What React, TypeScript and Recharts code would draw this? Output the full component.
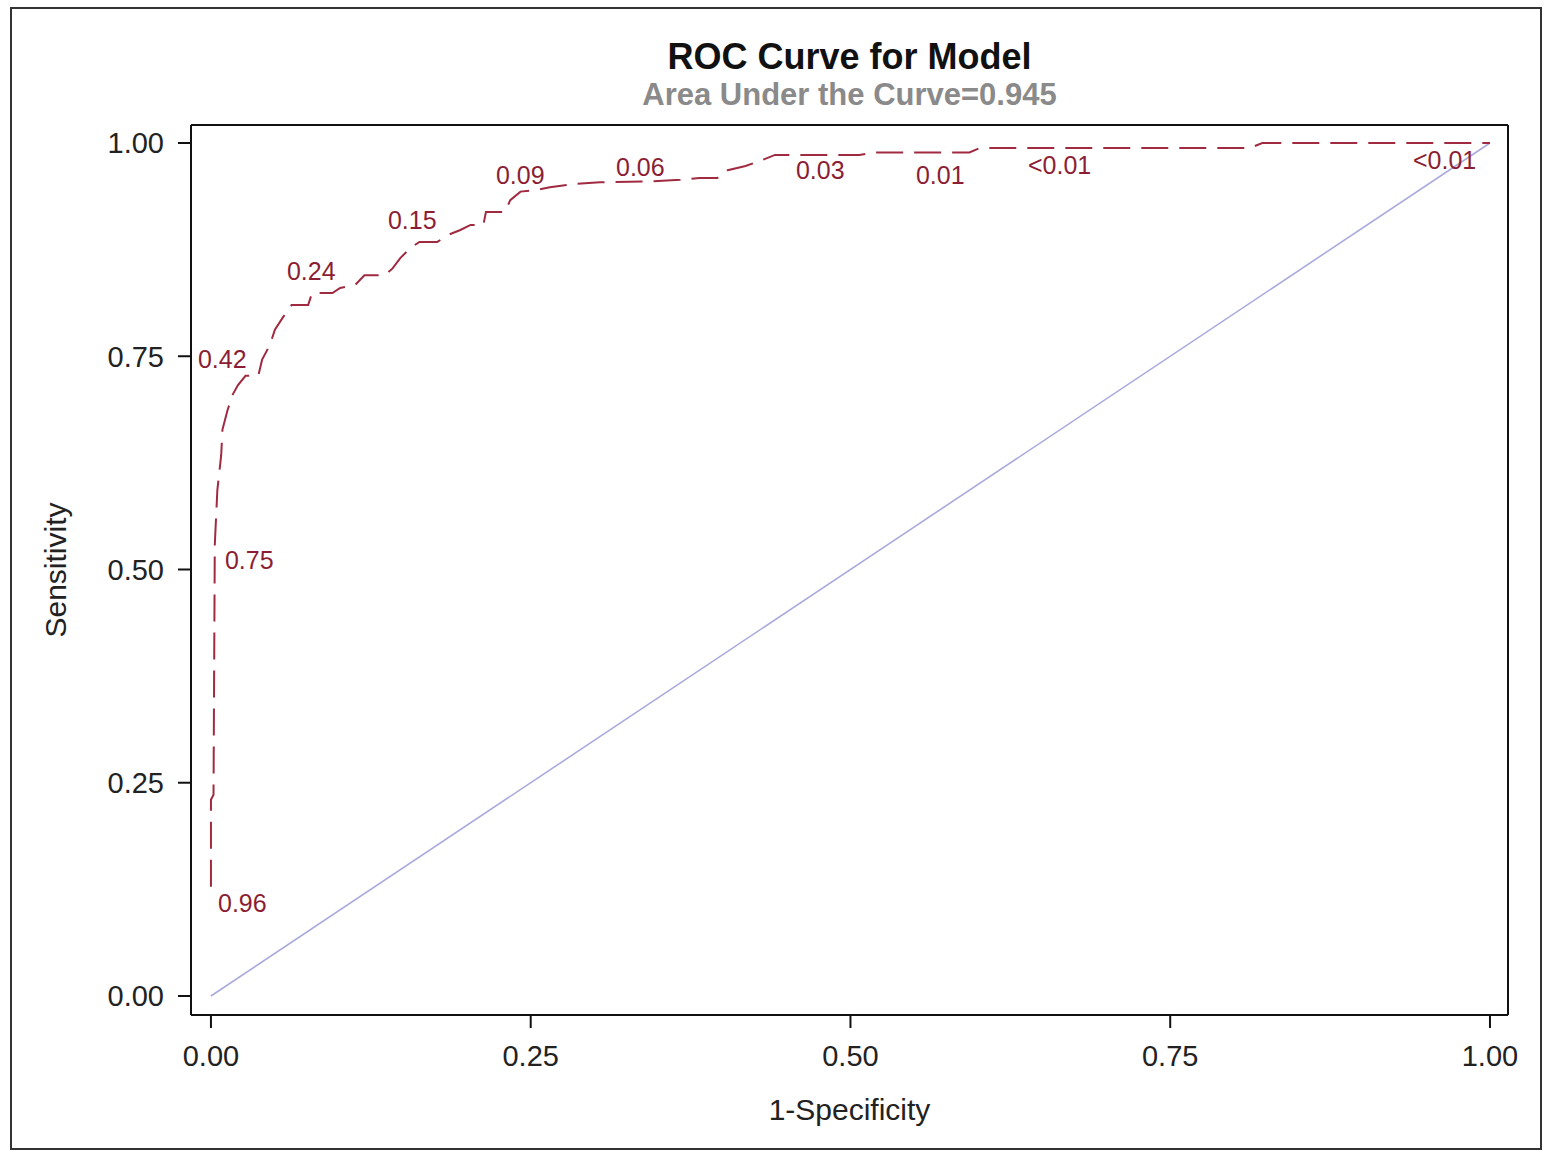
import React from 'react';
import { ComposedChart, Line, Scatter, XAxis, YAxis, ReferenceLine } from 'recharts';

// ROC curve points (1-specificity, sensitivity)
const fprValues = [
  0.0, 0.0, 0.002, 0.003, 0.005, 0.008, 0.009, 0.013, 0.017, 0.021, 0.027, 0.037,
  0.040, 0.046, 0.050, 0.056, 0.063, 0.076, 0.079, 0.095, 0.101, 0.113, 0.120, 0.136,
  0.142, 0.148, 0.156, 0.163, 0.177, 0.185, 0.195, 0.203, 0.213, 0.215, 0.230, 0.234,
  0.242, 0.255, 0.265, 0.285, 0.304, 0.343, 0.367, 0.382, 0.396, 0.404, 0.418, 0.431,
  0.441, 0.507, 0.519, 0.593, 0.601, 0.812, 0.822, 1.0
];
const tprValues = [
  0.128, 0.230, 0.236, 0.529, 0.593, 0.634, 0.664, 0.687, 0.705, 0.716, 0.727, 0.727,
  0.746, 0.763, 0.781, 0.795, 0.810, 0.810, 0.824, 0.824, 0.830, 0.834, 0.845, 0.845,
  0.853, 0.865, 0.877, 0.884, 0.884, 0.892, 0.898, 0.904, 0.904, 0.919, 0.919, 0.933,
  0.943, 0.945, 0.948, 0.952, 0.954, 0.955, 0.957, 0.959, 0.959, 0.968, 0.973, 0.980,
  0.986, 0.986, 0.989, 0.989, 0.994, 0.994, 1.0, 1.0
];

// cutoff probability labels and where they sit
const cutoffText = ['0.96', '0.75', '0.42', '0.24', '0.15', '0.09', '0.06', '0.03', '0.01', '<0.01', '<0.01'];
const cutoffFpr = [0.0055, 0.0109, -0.0102, 0.0594, 0.1384, 0.2228, 0.3167, 0.4574, 0.5512, 0.6388, 0.9398];
const cutoffTpr = [0.109, 0.511, 0.746, 0.850, 0.910, 0.962, 0.971, 0.968, 0.962, 0.974, 0.980];

const diagFpr = [0, 1];
const diagTpr = [0, 1];

const axisTicks = [0, 0.25, 0.5, 0.75, 1];
// axis ranges run a little past 0 and 1, as in the reference frame
const xRange = [-0.0156, 1.0141];
const yRange = [-0.0223, 1.0211];

const rocData = fprValues.map((f, i) => ({ fpr: f, tpr: tprValues[i] }));
const diagData = diagFpr.map((f, i) => ({ fpr: f, tpr: diagTpr[i] }));
const labelData = cutoffText.map((t, i) => ({ fpr: cutoffFpr[i], tpr: cutoffTpr[i], label: t }));

const FONT = 'Arial, "Liberation Sans", sans-serif';
const CURVE = '#a02a40';

const tickStyle = { fontSize: 29, fill: '#222', fontFamily: FONT };

export default function App() {
  return (
    <div
      style={{
        position: 'absolute',
        left: 10,
        top: 7,
        width: 1532,
        height: 1143,
        border: '2px solid #333',
        boxSizing: 'border-box',
        background: '#fff',
        fontFamily: FONT,
      }}
    >
      <div style={{ position: 'absolute', left: 179, width: 1317, top: 28, textAlign: 'center', fontSize: 36, fontWeight: 'bold', color: '#111', lineHeight: '40px' }}>
        ROC Curve for Model
      </div>
      <div style={{ position: 'absolute', left: 179, width: 1317, top: 69, textAlign: 'center', fontSize: 31, fontWeight: 'bold', color: '#8a8a8a', lineHeight: '34px' }}>
        Area Under the Curve=0.945
      </div>
      <ComposedChart width={1528} height={1139} margin={{ top: 116, right: 32, bottom: 0, left: 0 }}>
        <XAxis
          dataKey="fpr"
          type="number"
          domain={xRange}
          allowDataOverflow
          ticks={axisTicks}
          tickFormatter={(v) => v.toFixed(2)}
          height={133}
          tickSize={13}
          tickMargin={17}
          tick={tickStyle}
          axisLine={{ stroke: '#111', strokeWidth: 2 }}
          tickLine={{ stroke: '#111', strokeWidth: 2 }}
          label={{ value: '1-Specificity', position: 'insideBottom', offset: 28, style: { fontSize: 30, fill: '#222', fontFamily: FONT } }}
        />
        <YAxis
          dataKey="tpr"
          type="number"
          domain={yRange}
          allowDataOverflow
          ticks={axisTicks}
          tickFormatter={(v) => v.toFixed(2)}
          width={179}
          tickSize={13}
          tickMargin={14}
          tick={tickStyle}
          axisLine={{ stroke: '#111', strokeWidth: 2 }}
          tickLine={{ stroke: '#111', strokeWidth: 2 }}
          label={{ value: 'Sensitivity', angle: -90, position: 'insideLeft', offset: 43, style: { fontSize: 30, fill: '#222', fontFamily: FONT, textAnchor: 'middle' } }}
        />
        <ReferenceLine y={yRange[1]} stroke="#111" strokeWidth={2} />
        <ReferenceLine x={xRange[1]} stroke="#111" strokeWidth={2} />
        <Line
          data={diagData}
          dataKey="tpr"
          type="linear"
          stroke="#aaaadd"
          strokeWidth={1.6}
          dot={false}
          activeDot={false}
          isAnimationActive={false}
        />
        <Line
          data={rocData}
          dataKey="tpr"
          type="linear"
          stroke={CURVE}
          strokeWidth={2}
          strokeDasharray="27 11"
          dot={false}
          activeDot={false}
          isAnimationActive={false}
        />
        <Scatter
          data={labelData}
          dataKey="tpr"
          isAnimationActive={false}
          shape={(p: any) => (
            <text x={p.cx} y={p.cy} dy="0.35em" textAnchor="start" fontSize={25} fill="#8b1e34" fontFamily={FONT}>
              {p.payload.label}
            </text>
          )}
        />
      </ComposedChart>
    </div>
  );
}
